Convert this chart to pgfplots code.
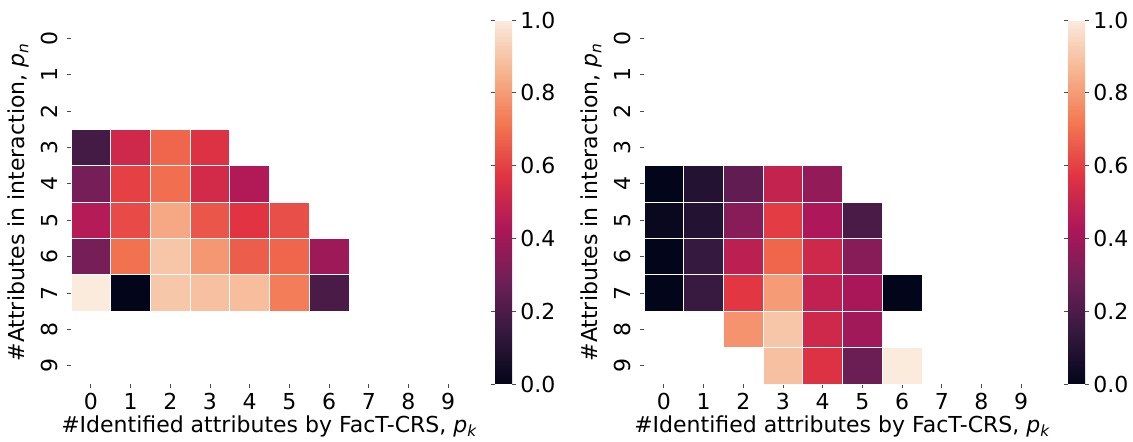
\documentclass[border=0pt]{standalone}
\usepackage{pgfplots}
\pgfplotsset{compat=1.18}
\usepackage{pgfplotstable}
\usepackage{fontspec}
\setmainfont{DejaVu Sans}

\pgfplotstableread{
x y v
0 3 0.18
1 3 0.52
2 3 0.68
3 3 0.56
0 4 0.30
1 4 0.60
2 4 0.70
3 4 0.53
4 4 0.44
0 5 0.45
1 5 0.62
2 5 0.83
3 5 0.646
4 5 0.57
5 5 0.63
0 6 0.30
1 6 0.705
2 6 0.90
3 6 0.79
4 6 0.66
5 6 0.68
6 6 0.39
0 7 1.00
1 7 0.00
2 7 0.905
3 7 0.89
4 7 0.88
5 7 0.73
6 7 0.19
}\leftdata

\pgfplotstableread{
x y v
0 4 0.00
1 4 0.09
2 4 0.25
3 4 0.49
4 4 0.365
0 5 0.02
1 5 0.09
2 5 0.34
3 5 0.59
4 5 0.43
5 5 0.19
0 6 0.00
1 6 0.145
2 6 0.47
3 6 0.68
4 6 0.52
5 6 0.34
0 7 0.00
1 7 0.15
2 7 0.58
3 7 0.80
4 7 0.48
5 7 0.42
6 7 0.00
2 8 0.78
3 8 0.90
4 8 0.52
5 8 0.40
3 9 0.89
4 9 0.56
5 9 0.27
6 9 1.00
}\rightdata

\pgfdeclareplotmark{cell}{%
  \pgfpathrectangle{\pgfpoint{-9.925pt}{-9.1pt}}{\pgfpoint{19.85pt}{18.2pt}}%
  \pgfusepathqfillstroke}

\pgfplotsset{
  colormap={rocket}{rgb255=(3,5,26) rgb255=(53,25,62) rgb255=(112,31,87)
    rgb255=(173,23,89) rgb255=(225,51,66) rgb255=(243,118,81)
    rgb255=(246,180,143) rgb255=(250,235,221)},
  hm/.style={
    scale only axis, width=198.5pt, height=182pt,
    anchor=south west,
    xmin=-0.5, xmax=9.5, ymin=-0.5, ymax=9.5, y dir=reverse,
    xtick={0,...,9}, ytick={0,...,9},
    axis line style={draw=none},
    tick align=outside, xtick pos=bottom, ytick pos=left,
    major tick length=2pt,
    tick style={black!70, line width=0.4pt},
    font=\fontsize{11}{13}\selectfont,
    /pgf/number format/assume math mode=true,
    yticklabel style={rotate=90, anchor=south, inner sep=4.5pt},
    xticklabel style={anchor=north, inner sep=2.5pt},
    xlabel={\#Identified attributes by FacT-CRS, \textit{p}\textsubscript{\textit{k}}},
    ylabel={\#Attributes in interaction, \textit{p}\textsubscript{\textit{n}}},
    xlabel style={inner sep=0pt},
    ylabel style={inner sep=0pt, yshift=1pt},
    colormap name=rocket,
    point meta min=0, point meta max=1,
    colorbar,
    colorbar style={
      width=8.5pt,
      at={(parent axis.north east)}, anchor=north west, xshift=5pt,
      ytick={0,0.2,0.4,0.6,0.8,1},
      axis line style={draw=none},
      tick align=outside, major tick length=2pt,
      tick style={black!70, line width=0.4pt},
      font=\fontsize{11}{13}\selectfont,
      yticklabel style={inner sep=2pt, /pgf/number format/.cd, fixed, fixed zerofill, precision=1, assume math mode=true},
    },
  },
  cells/.style={
    scatter, only marks, mark=cell,
    line width=0.4pt,
    scatter/use mapped color={draw=white, fill=mapped color},
  },
}

\begin{document}
\begin{tikzpicture}
\path[use as bounding box] (0,0) rectangle (566.5pt,221pt);
\begin{axis}[hm, at={(35.5pt,29pt)}]
\addplot[cells, point meta=\thisrow{v}] table[x=x, y=y] {\leftdata};
\end{axis}
\begin{axis}[hm, at={(322pt,29pt)}]
\addplot[cells, point meta=\thisrow{v}] table[x=x, y=y] {\rightdata};
\end{axis}
\end{tikzpicture}
\end{document}
